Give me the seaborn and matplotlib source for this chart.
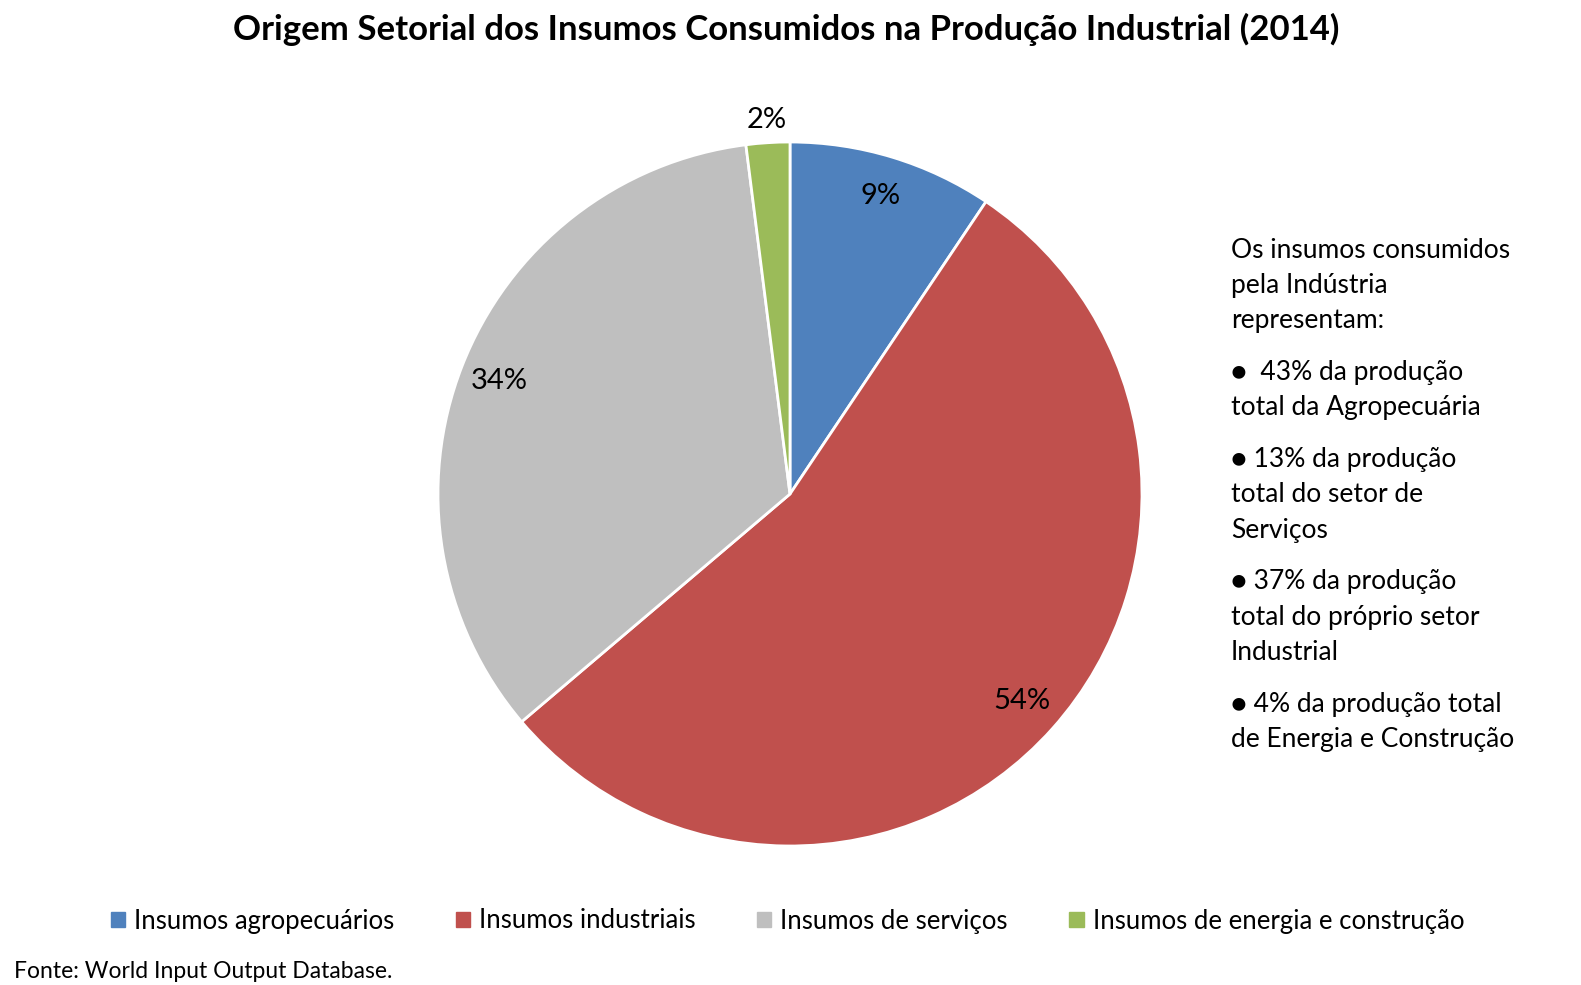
import numpy as np
import matplotlib
matplotlib.use('Agg')
import matplotlib.pyplot as plt
import seaborn as sns

# data
categories = ['Insumos agropecuários', 'Insumos industriais',
              'Insumos de serviços', 'Insumos de energia e construção']
shares = [9.4, 54.4, 34.2, 2.0]
colors = ['#4F81BD', '#C0504D', '#BFBFBF', '#9BBB59']

note_paragraphs = [
    ['Os insumos consumidos', 'pela Indústria', 'representam:'],
    ['●  43% da produção', 'total da Agropecuária'],
    ['● 13% da produção', 'total do setor de', 'Serviços'],
    ['● 37% da produção', 'total do próprio setor', 'Industrial'],
    ['● 4% da produção total', 'de Energia e Construção'],
]

title = 'Origem Setorial dos Insumos Consumidos na Produção Industrial (2014)'
source = 'Fonte: World Input Output Database.'

sns.set_theme(style='white')
plt.rcParams['font.family'] = ['Lato', 'DejaVu Sans']
plt.rcParams['text.color'] = 'black'

W, H = 1581, 985
fig = plt.figure(figsize=(W / 100, H / 100), dpi=100)

# pie centre and radius in pixels
cx, cy, r = 790, 494, 352
ax = fig.add_axes([(cx - r) / W, 1 - (cy + r) / H, 2 * r / W, 2 * r / H])

pal = sns.color_palette(colors)
wedges, texts, autotexts = ax.pie(
    shares, colors=pal, startangle=90, counterclock=False,
    autopct='%1.0f%%', pctdistance=0.885,
    wedgeprops=dict(edgecolor='white', linewidth=2),
    textprops=dict(fontsize=21, color='black'))

# small slice label sits outside the pie
for w, t in zip(wedges, autotexts):
    if w.theta2 - w.theta1 < 15:
        ang = np.deg2rad((w.theta1 + w.theta2) / 2)
        t.set_position((1.065 * np.cos(ang), 1.065 * np.sin(ang)))

ax.set_xlim(-1, 1)
ax.set_ylim(-1, 1)
ax.axis('off')

fig.text(0.497, 1 - 29 / H, title, ha='center', va='center',
         fontsize=25, fontweight='bold')

# side note
y = 250
for para in note_paragraphs:
    for line in para:
        fig.text(1231 / W, 1 - y / H, line, ha='left', va='center', fontsize=19)
        y += 35.3
    y += 16.5

handles = [plt.Rectangle((0, 0), 1, 1, color=c) for c in pal]
fig.legend(handles, categories, loc='center', ncol=4,
           bbox_to_anchor=(0.498, 1 - 921 / H), frameon=False,
           fontsize=18.5, handlelength=0.55, handleheight=0.55,
           handletextpad=0.35, columnspacing=2.4)

fig.text(14 / W, 1 - 972 / H, source, ha='left', va='center', fontsize=16.5)

fig.savefig('out.png', dpi=100)
